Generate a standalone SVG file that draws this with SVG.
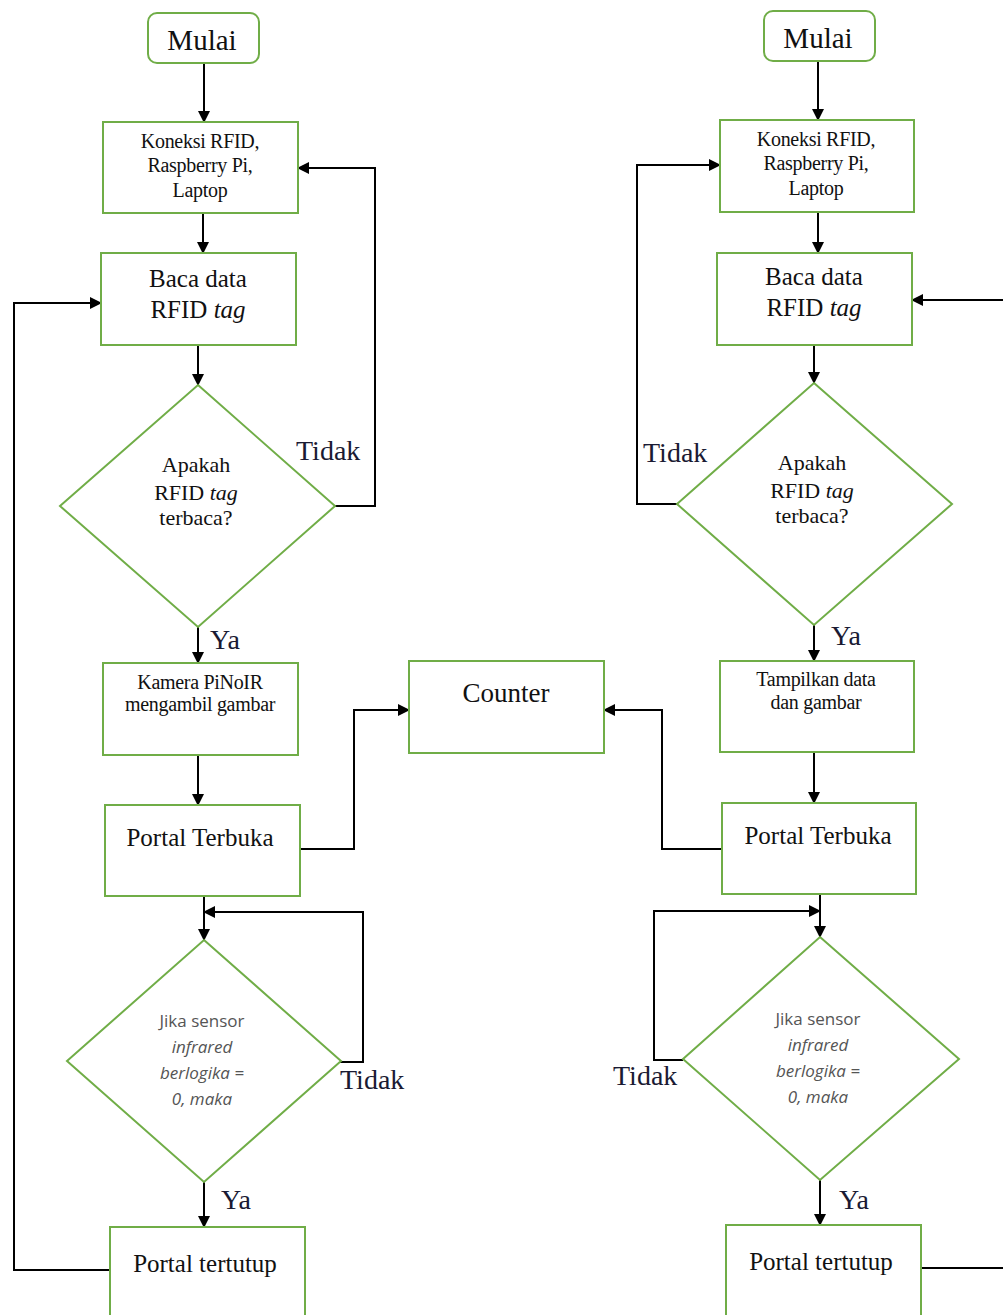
<svg xmlns="http://www.w3.org/2000/svg" width="1003" height="1315" viewBox="0 0 1003 1315">
<defs>
<marker id="arr" markerUnits="userSpaceOnUse" markerWidth="12" markerHeight="12" refX="11" refY="6" orient="auto">
<path d="M0,0 L12,6 L0,12 z" fill="#000"/>
</marker>
<style>
.box{fill:#fff;stroke:#70ad47;stroke-width:2}
.ln{fill:none;stroke:#000;stroke-width:2}
.ar{fill:none;stroke:#000;stroke-width:2;marker-end:url(#arr)}
.t{font-family:"Liberation Serif","Times New Roman",serif;fill:#111;text-anchor:middle}
.sm{font-size:20px;letter-spacing:-0.3px}
.s{font-family:"Open Sans","Liberation Sans",sans-serif;fill:#555;text-anchor:middle;font-size:17px}
.lab{font-family:"Liberation Serif","Times New Roman",serif;fill:#1a1a33;font-size:28px}
</style>
</defs>
<rect width="1003" height="1315" fill="#fff"/>
<g id="connectors">
<path class="ar" d="M204,63 V122"/>
<path class="ar" d="M203,213 V253"/>
<path class="ar" d="M198,345 V385"/>
<path class="ar" d="M335,506 H375 V168 H298"/>
<path class="ar" d="M198,627 V663"/>
<path class="ar" d="M198,755 V805"/>
<path class="ar" d="M300,849 H354 V710 H409"/>
<path class="ar" d="M204,896 V940"/>
<path class="ar" d="M340,1062 H363 V912 H204"/>
<path class="ar" d="M204,1182 V1227"/>
<path class="ar" d="M110,1270 H14 V303 H101"/>
<path class="ar" d="M818,61 V120"/>
<path class="ar" d="M818,212 V253"/>
<path class="ar" d="M1003,300 H912"/>
<path class="ar" d="M814,345 V383"/>
<path class="ar" d="M677,504 H637 V165 H720"/>
<path class="ar" d="M814,625 V661"/>
<path class="ar" d="M814,752 V803"/>
<path class="ar" d="M722,849 H662 V710 H604"/>
<path class="ar" d="M820,894 V937"/>
<path class="ar" d="M683,1060 H654 V911 H820"/>
<path class="ar" d="M820,1180 V1225"/>
<path class="ln" d="M916,1268 H1003"/>
</g>
<g id="labels">
<text class="lab" x="296" y="460">Tidak</text>
<text class="lab" x="210" y="649">Ya</text>
<text class="lab" x="340" y="1089">Tidak</text>
<text class="lab" x="221" y="1209">Ya</text>
<text class="lab" x="643" y="462">Tidak</text>
<text class="lab" x="831" y="645">Ya</text>
<text class="lab" x="613" y="1085">Tidak</text>
<text class="lab" x="839" y="1209">Ya</text>
</g>
<g id="mulai1"><rect class="box" x="148" y="13" width="111" height="50" rx="9"/><text class="t" x="202" y="50" font-size="29">Mulai</text></g>
<g id="koneksi1"><rect class="box" x="103" y="122" width="195" height="91"/><text class="t sm"><tspan x="200" y="148">Koneksi RFID,</tspan><tspan x="200" y="172">Raspberry Pi,</tspan><tspan x="200" y="197">Laptop</tspan></text></g>
<g id="baca1"><rect class="box" x="101" y="253" width="195" height="92"/><text class="t" font-size="25"><tspan x="198" y="287">Baca data</tspan><tspan x="198" y="318">RFID <tspan font-style="italic">tag</tspan></tspan></text></g>
<g id="dec1"><polygon class="box" points="198,385 335,506 198,627 60,506"/><text class="t" font-size="22"><tspan x="196" y="472">Apakah</tspan><tspan x="196" y="500">RFID <tspan font-style="italic">tag</tspan></tspan><tspan x="196" y="525">terbaca?</tspan></text></g>
<g id="kamera"><rect class="box" x="103" y="663" width="195" height="92"/><text class="t sm"><tspan x="200" y="689">Kamera PiNoIR</tspan><tspan x="200" y="711">mengambil gambar</tspan></text></g>
<g id="portalbuka1"><rect class="box" x="105" y="805" width="195" height="91"/><text class="t" x="200" y="846" font-size="25">Portal Terbuka</text></g>
<g id="counter"><rect class="box" x="409" y="661" width="195" height="92"/><text class="t" x="506" y="702" font-size="27">Counter</text></g>
<g id="dec2"><polygon class="box" points="204,940 341,1061 204,1182 67,1061"/><text class="s"><tspan x="202" y="1027">Jika sensor</tspan><tspan x="202" y="1053" font-style="italic">infrared</tspan><tspan x="202" y="1079" font-style="italic">berlogika =</tspan><tspan x="202" y="1105" font-style="italic">0, maka</tspan></text></g>
<g id="portaltutup1"><rect class="box" x="110" y="1227" width="195" height="100"/><text class="t" x="205" y="1272" font-size="25">Portal tertutup</text></g>
<g id="mulai2"><rect class="box" x="764" y="11" width="111" height="50" rx="9"/><text class="t" x="818" y="48" font-size="29">Mulai</text></g>
<g id="koneksi2"><rect class="box" x="720" y="120" width="194" height="92"/><text class="t sm"><tspan x="816" y="146">Koneksi RFID,</tspan><tspan x="816" y="170">Raspberry Pi,</tspan><tspan x="816" y="195">Laptop</tspan></text></g>
<g id="baca2"><rect class="box" x="717" y="253" width="195" height="92"/><text class="t" font-size="25"><tspan x="814" y="285">Baca data</tspan><tspan x="814" y="316">RFID <tspan font-style="italic">tag</tspan></tspan></text></g>
<g id="dec3"><polygon class="box" points="814,383 952,504 814,625 677,504"/><text class="t" font-size="22"><tspan x="812" y="470">Apakah</tspan><tspan x="812" y="498">RFID <tspan font-style="italic">tag</tspan></tspan><tspan x="812" y="523">terbaca?</tspan></text></g>
<g id="tampilkan"><rect class="box" x="720" y="661" width="194" height="91"/><text class="t sm"><tspan x="816" y="686">Tampilkan data</tspan><tspan x="816" y="709">dan gambar</tspan></text></g>
<g id="portalbuka2"><rect class="box" x="722" y="803" width="194" height="91"/><text class="t" x="818" y="844" font-size="25">Portal Terbuka</text></g>
<g id="dec4"><polygon class="box" points="820,937 959,1059 820,1180 683,1059"/><text class="s"><tspan x="818" y="1025">Jika sensor</tspan><tspan x="818" y="1051" font-style="italic">infrared</tspan><tspan x="818" y="1077" font-style="italic">berlogika =</tspan><tspan x="818" y="1103" font-style="italic">0, maka</tspan></text></g>
<g id="portaltutup2"><rect class="box" x="726" y="1225" width="195" height="100"/><text class="t" x="821" y="1270" font-size="25">Portal tertutup</text></g>
</svg>
